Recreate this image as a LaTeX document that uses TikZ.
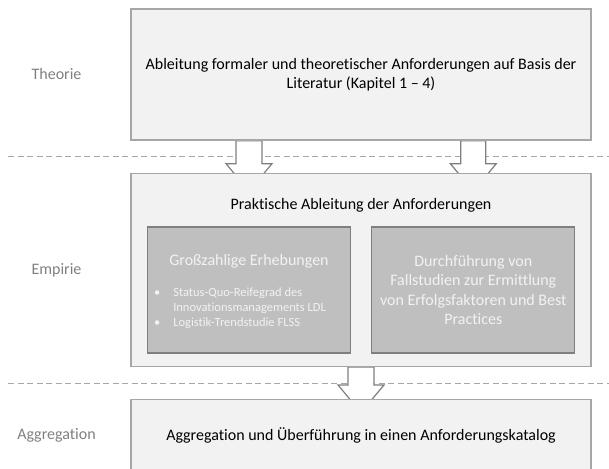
\documentclass[tikz,border=0pt]{standalone}
\usepackage{fontspec}
\setmainfont{Carlito}[Ligatures={TeX,NoCommon}]
\usetikzlibrary{positioning, calc}
\definecolor{boxfill}{HTML}{F2F2F2}
\definecolor{boxline}{HTML}{A6A6A6}
\definecolor{darkfill}{HTML}{BFBFBF}
\definecolor{darkline}{HTML}{7F7F7F}
\definecolor{labgray}{HTML}{808080}
\pgfdeclarelayer{bg}
\pgfsetlayers{bg,main}

\begin{document}
\begin{tikzpicture}[x=1pt, y=-1pt,
    txt/.style={font=\fontsize{16}{19.2}\selectfont},
    box/.style={txt, draw=boxline, fill=boxfill, line width=1.3pt, minimum width=460pt, align=center},
    inbox/.style={draw=darkline, fill=darkfill, line width=1.3pt, minimum width=203pt, minimum height=126pt, text=boxfill, align=center, font=\fontsize{16}{19.5}\selectfont},
    lab/.style={txt, text=labgray, inner sep=0pt},
    sep/.style={draw=boxline, line width=1pt, dash pattern=on 6pt off 3.5pt},
    fatarrow/.style n args={3}{draw=darkline, fill=white, line width=1.2pt,
      to path={let \p1=(\tikztostart), \p2=(\tikztotarget) in
        (\x1-#1,\y1) -- (\x1-#1,\y2+#3) -- (\x1-#2,\y2+#3) -- (\x1,\y2+#3-1.2*#2)
        -- (\x1+#2,\y2+#3) -- (\x1+#1,\y2+#3) -- (\x1+#1,\y1) -- cycle}}]
    \useasboundingbox (0,0) rectangle (609,468);
    \node [box, minimum height=131pt] (theo) at (361,74.5) {Ableitung formaler und theoretischer Anforderungen auf Basis der\\Literatur (Kapitel 1 – 4)};
    \node [below=32pt of theo] (emp) [box, minimum height=193pt] {};
    \node [txt] (emphead) at ([yshift=-33pt]emp.north) {Praktische Ableitung der Anforderungen};
    \node [inbox] (survey) at (249,290) {};
    \node [right=20pt of survey] (cases) [inbox] {Durchführung von\\Fallstudien zur Ermittlung\\von Erfolgsfaktoren und Best\\Practices};
    \node [txt, text=boxfill] (surveyhead) at ([yshift=-35pt]survey.north) {Großzahlige Erhebungen};
    \node [anchor=west, text=boxfill, inner sep=0pt, font=\fontsize{12.5}{15}\selectfont] (surveylist) at ([xshift=7pt, yshift=-18pt]survey.west)
      {\begin{tabular}{@{}l@{\hspace{13pt}}l@{}}
        • & Status-Quo-Reifegrad des\\
          & Innovationsmanagements LDL\\
        • & Logistik-Trendstudie FLSS
      \end{tabular}};
    \node [below=32pt of emp] (agg) [box, minimum height=72pt] {Aggregation und Überführung in einen Anforderungskatalog};
    \node [lab] (theolab) at (56.5,0 |- theo) {Theorie};
    \node [lab] (emplab) at (56.5,0 |- emp) {Empirie};
    \node [lab] (agglab) at (56.5,0 |- agg) {Aggregation};
    \begin{pgfonlayer}{bg}
      \draw [sep] (8,156) -- (609,156);
      \draw [sep] (8,383) -- (609,383);
      \draw [fatarrow={13pt}{23pt}{9pt}] (theo.south -| survey.north) to (emp.north -| survey.north);
      \draw [fatarrow={12.5pt}{23pt}{9pt}] (theo.south -| cases.north) to (emp.north -| cases.north);
      \draw [fatarrow={13pt}{23pt}{14pt}] (emp.south) to (agg.north);
    \end{pgfonlayer}
  \end{tikzpicture}
\end{document}
